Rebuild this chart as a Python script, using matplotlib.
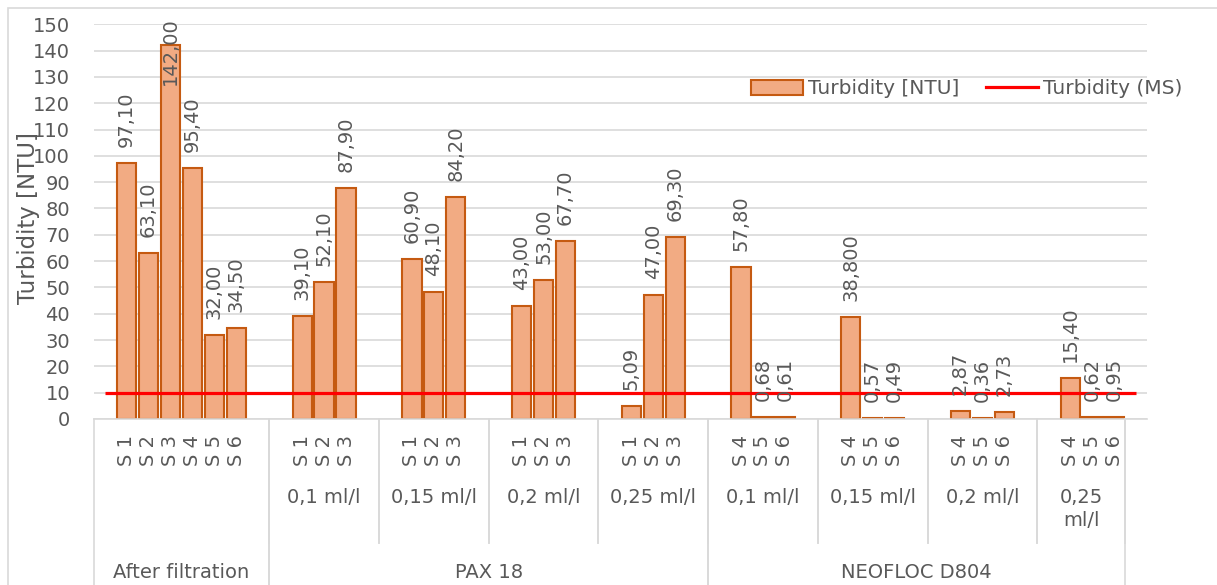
import numpy as np
import matplotlib
matplotlib.use("Agg")
import matplotlib.pyplot as plt
from matplotlib.transforms import blended_transform_factory
from matplotlib.patches import Patch, Rectangle
from matplotlib.lines import Line2D

# data
af_name = "After filtration"
af_samples = ["S 1", "S 2", "S 3", "S 4", "S 5", "S 6"]
af_values = [97.10, 63.10, 142.00, 95.40, 32.00, 34.50]
af_labels = ["97,10", "63,10", "142,00", "95,40", "32,00", "34,50"]

pax_name = "PAX 18"
pax_doses = ["0,1 ml/l", "0,15 ml/l", "0,2 ml/l", "0,25 ml/l"]
pax_samples = ["S 1", "S 2", "S 3"]
pax_values = [[39.10, 52.10, 87.90], [60.90, 48.10, 84.20],
              [43.00, 53.00, 67.70], [5.09, 47.00, 69.30]]
pax_labels = [["39,10", "52,10", "87,90"], ["60,90", "48,10", "84,20"],
              ["43,00", "53,00", "67,70"], ["5,09", "47,00", "69,30"]]

neo_name = "NEOFLOC D804"
neo_doses = ["0,1 ml/l", "0,15 ml/l", "0,2 ml/l", "0,25 ml/l"]
neo_samples = ["S 4", "S 5", "S 6"]
neo_values = [[57.80, 0.68, 0.61], [38.80, 0.57, 0.49],
              [2.87, 0.36, 2.73], [15.40, 0.62, 0.95]]
neo_labels = [["57,80", "0,68", "0,61"], ["38,800", "0,57", "0,49"],
              ["2,87", "0,36", "2,73"], ["15,40", "0,62", "0,95"]]

ms_limit = 10
y_ticks = list(range(0, 151, 10))

W, H = 1217, 585
fig = plt.figure(figsize=(W / 100, H / 100), dpi=100)
ax = fig.add_axes([93.7 / W, 1 - 419 / H, (1147 - 93.7) / W, (419 - 24.3) / H])

gray = "#595959"
font = "DejaVu Sans"
fs = 14

# build category slots: blank before each group of bars, blank after
xs, vals, labs, leaf = [], [], [], []
lvl2 = []   # (label, start edge, end edge)
lvl3 = []
slot = 0
start = slot
slot += 1
for s, v, l in zip(af_samples, af_values, af_labels):
    xs.append(slot); vals.append(v); labs.append(l); leaf.append(s)
    slot += 1
slot += 1
lvl3.append((af_name, start - 0.5, slot - 0.5))

for name, doses, samples, values, labels, last_pad in [
        (pax_name, pax_doses, pax_samples, pax_values, pax_labels, True),
        (neo_name, neo_doses, neo_samples, neo_values, neo_labels, False)]:
    gstart = slot
    for k, d in enumerate(doses):
        dstart = slot
        slot += 1
        for s, v, l in zip(samples, values[k], labels[k]):
            xs.append(slot); vals.append(v); labs.append(l); leaf.append(s)
            slot += 1
        if last_pad or k < len(doses) - 1:
            slot += 1
        lvl2.append((d, dstart - 0.5, slot - 0.5))
    lvl3.append((name, gstart - 0.5, slot - 0.5))
n_slots = slot + 1

ax.set_xlim(-0.5, n_slots - 0.5)
ax.set_ylim(0, 150)
ax.set_yticks(y_ticks)
ax.set_yticklabels([str(t) for t in y_ticks], fontsize=fs, color=gray, family=font)
ax.tick_params(axis="y", length=0, pad=17)
ax.set_xticks([])
for sp in ["top", "right", "left"]:
    ax.spines[sp].set_visible(False)
ax.spines["bottom"].set_color("#D9D9D9")
ax.spines["bottom"].set_linewidth(1.2)
ax.grid(axis="y", color="#D9D9D9", linewidth=1.2)
ax.set_axisbelow(True)

bars = ax.bar(xs, vals, width=0.88, color="#F2AB83", edgecolor="#C55A11",
              linewidth=1.5, zorder=2)
ax.plot(np.arange(n_slots), [ms_limit] * n_slots, color="#FF0000", lw=2.3,
        zorder=3, solid_capstyle="butt")

texts = []
for x, v, l in zip(xs, vals, labs):
    t = ax.annotate(l, (x, v), xytext=(0, 16), textcoords="offset pixels",
                    rotation=90, ha="center", va="bottom", fontsize=fs,
                    color=gray, family=font, zorder=4)
    texts.append(t)

# keep labels inside the chart area like Excel does
fig.canvas.draw()
r = fig.canvas.get_renderer()
for t in texts:
    bb = t.get_window_extent(r)
    top_lim = H - 17
    if bb.y1 > top_lim:
        t.set_position((0, 16 - (bb.y1 - top_lim)))

# category axis
tr = blended_transform_factory(ax.transData, fig.transFigure)
fy = lambda p: 1 - p / H
for x, s in zip(xs, leaf):
    ax.text(x, fy(450), s, transform=tr, rotation=90, ha="center", va="center",
            fontsize=fs, color=gray, family=font)
for d, a, b in lvl2:
    txt = d if (b - a) >= 5 else d.replace(" ", "\n")
    ax.text((a + b) / 2, fy(488), txt, transform=tr, ha="center", va="top",
            fontsize=fs, color=gray, family=font, linespacing=1.3)
    for e in (a, b):
        ax.plot([e, e], [fy(419), fy(543)], transform=tr, color="#D9D9D9",
                lw=1.2, clip_on=False)
for g, a, b in lvl3:
    ax.text((a + b) / 2, fy(572), g, transform=tr, ha="center", va="center",
            fontsize=fs, color=gray, family=font)
    for e in (a, b):
        ax.plot([e, e], [fy(419), fy(590)], transform=tr, color="#D9D9D9",
                lw=1.2, clip_on=False)

fig.text(29 / W, fy(218), "Turbidity [NTU]", rotation=90, ha="center",
         va="center", fontsize=16.5, color=gray, family=font)

# legend
handles = [Patch(facecolor="#F2AB83", edgecolor="#C55A11", linewidth=1.5),
           Line2D([], [], color="#FF0000", lw=2.3)]
fig.legend(handles, ["Turbidity [NTU]", "Turbidity (MS)"], ncol=2,
           loc="center left", bbox_to_anchor=(751 / W, fy(89)), frameon=False,
           borderpad=0, borderaxespad=0, handlelength=2.6, handleheight=0.7,
           handletextpad=0.25, columnspacing=1.3,
           prop={"family": font, "size": 14.5}, labelcolor=gray)

# chart area border
fig.add_artist(Rectangle((8 / W, -0.1), 1.2, fy(8) + 0.1, transform=fig.transFigure,
                         fill=False, edgecolor="#D9D9D9", lw=1.2))

fig.savefig("out.png", dpi=100)
